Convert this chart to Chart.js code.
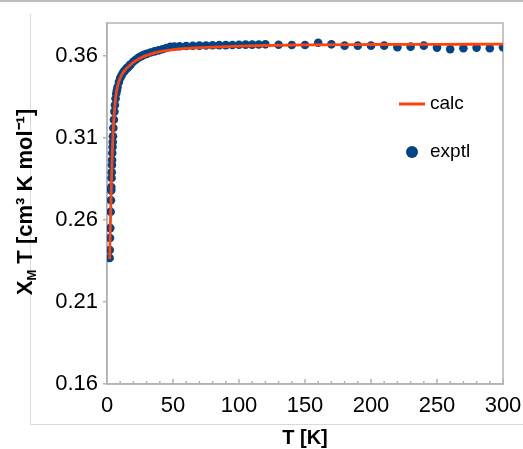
<!DOCTYPE html>
<html>
<head>
<meta charset="utf-8">
<script src="https://cdn.jsdelivr.net/npm/chart.js@4.4.0/dist/chart.umd.min.js"></script>
<style>
  html, body { margin: 0; padding: 0; background: #fff; }
  #wrap { width: 523px; height: 449px; position: relative; }
</style>
</head>
<body>
<div id="wrap"><canvas id="chiChart" width="523" height="449"></canvas></div>
<script>
// measured points
const exptlT = [2.0, 2.1, 2.3, 2.5, 2.8, 3.0, 3.2, 3.3, 3.45, 3.6, 3.75, 3.85, 4.0, 4.2, 4.35,
  4.5, 4.8, 5.2, 5.6, 6.0, 6.5, 7.0, 7.5, 8.0, 9.0, 10, 11, 12, 13, 14, 15, 16, 17, 18,
  20, 22, 24, 26, 28, 30, 33, 36, 39, 42, 45, 48, 51, 55, 60, 65, 70, 75, 80, 85, 90, 95,
  100, 105, 110, 115, 120, 130, 140, 150, 160, 170, 180, 190, 200, 210, 220, 230, 240,
  250, 260, 270, 280, 290, 300];
const exptlChiT = [0.2368, 0.2417, 0.249, 0.255, 0.265, 0.272, 0.278, 0.280, 0.2855, 0.289,
  0.2935, 0.2965, 0.3008, 0.3044, 0.3075, 0.311, 0.316, 0.321, 0.326, 0.330, 0.334, 0.337,
  0.339, 0.341, 0.344, 0.3465, 0.348, 0.3495, 0.3505, 0.3515, 0.3525, 0.353, 0.354, 0.3548,
  0.3565, 0.3578, 0.359, 0.3598, 0.3606, 0.3612, 0.362, 0.3627, 0.3633, 0.364, 0.3648,
  0.3655, 0.3657, 0.3658, 0.366, 0.3661, 0.3662, 0.3663, 0.3664, 0.3665, 0.3665, 0.3666,
  0.3667, 0.3668, 0.3668, 0.3669, 0.367, 0.3667, 0.3666, 0.3666, 0.368, 0.367, 0.3662,
  0.3662, 0.3662, 0.3662, 0.3652, 0.3656, 0.3662, 0.365, 0.3641, 0.3646, 0.365, 0.3646, 0.3652];

// fitted curve
const calcT = [2, 2.5, 3, 3.5, 4, 4.5, 5, 6, 7, 8, 10, 12, 15, 20, 25, 30, 40, 50, 60, 80,
  100, 120, 150, 200, 250, 300];
const calcChiT = [0.236, 0.255, 0.272, 0.287, 0.300, 0.311, 0.319, 0.330, 0.337, 0.3415,
  0.3465, 0.3495, 0.3525, 0.356, 0.3585, 0.3603, 0.3625, 0.3637, 0.3645, 0.3653, 0.3659,
  0.3663, 0.3667, 0.3669, 0.367, 0.3671];

const xTicks = [0, 50, 100, 150, 200, 250, 300];
const yTicks = [0.16, 0.21, 0.26, 0.31, 0.36];

const FONT = '"Liberation Sans", Arial, sans-serif';
const AXIS_GRAY = '#b3b3b3';

const toXY = (xs, ys) => xs.map((x, i) => ({ x: x, y: ys[i] }));

// frame, plot border, inside x tick marks, axis titles and legend
const decorations = {
  id: 'decorations',
  beforeDatasetsDraw(chart) {
    const { ctx, chartArea: a } = chart;
    ctx.save();
    ctx.strokeStyle = AXIS_GRAY;
    ctx.lineWidth = 1.5;
    ctx.strokeRect(a.left, a.top, a.right - a.left, a.bottom - a.top);
    // x tick marks every 10 K, pointing inward
    const xs = chart.scales.x;
    for (let t = 0; t <= 300; t += 10) {
      const px = xs.getPixelForValue(t);
      ctx.beginPath();
      ctx.moveTo(px, a.bottom);
      ctx.lineTo(px, a.bottom - (t % 50 === 0 ? 5 : 3));
      ctx.stroke();
    }
    ctx.restore();
  },
  afterDraw(chart) {
    const { ctx, chartArea: a } = chart;
    ctx.save();
    // outer light frame
    ctx.strokeStyle = '#d9d9d9';
    ctx.lineWidth = 1;
    ctx.beginPath();
    ctx.moveTo(30.5, 14); ctx.lineTo(30.5, 424.5); ctx.lineTo(523, 424.5);
    ctx.stroke();
    ctx.strokeStyle = '#bdbdbd';
    ctx.lineWidth = 2;
    ctx.beginPath(); ctx.moveTo(0, 1); ctx.lineTo(523, 1); ctx.stroke();

    ctx.fillStyle = '#000';
    // x title
    ctx.font = 'bold 20px ' + FONT;
    ctx.textAlign = 'center';
    ctx.textBaseline = 'middle';
    ctx.fillText('T [K]', (a.left + a.right) / 2, 438);

    // y title with subscript M
    ctx.translate(26, 202);
    ctx.rotate(-Math.PI / 2);
    const big = 'bold 22px ' + FONT, small = 'bold 13px ' + FONT;
    const parts = [['X', big, 0], ['M', small, 6], [' T [cm³ K mol⁻¹]', big, 0]];
    let w = 0;
    parts.forEach(p => { ctx.font = p[1]; w += ctx.measureText(p[0]).width; });
    let cx = -w / 2;
    ctx.textAlign = 'left';
    parts.forEach(p => {
      ctx.font = p[1];
      ctx.fillText(p[0], cx, p[2]);
      cx += ctx.measureText(p[0]).width;
    });
    ctx.restore();

    // legend inside the plot
    const calc = chart.data.datasets[0], ex = chart.data.datasets[1];
    ctx.save();
    ctx.font = '19px ' + FONT;
    ctx.textBaseline = 'middle';
    ctx.fillStyle = '#000';
    ctx.strokeStyle = calc.borderColor;
    ctx.lineWidth = 3;
    ctx.beginPath(); ctx.moveTo(399, 104); ctx.lineTo(425, 104); ctx.stroke();
    ctx.fillText(calc.label, 430, 104);
    ctx.fillStyle = ex.backgroundColor;
    ctx.beginPath(); ctx.arc(412, 152, 6, 0, Math.PI * 2); ctx.fill();
    ctx.fillStyle = '#000';
    ctx.fillText(ex.label, 430, 152);
    ctx.restore();
  }
};

const ctx = document.getElementById('chiChart').getContext('2d');

const chiChart = new Chart(ctx, {
  type: 'scatter',
  data: {
    datasets: [{
      label: 'calc',
      type: 'line',
      data: toXY(calcT, calcChiT),
      borderColor: '#ff420e',
      backgroundColor: '#ff420e',
      borderWidth: 2.8,
      pointRadius: 0,
      cubicInterpolationMode: 'monotone',
      fill: false
    }, {
      label: 'exptl',
      data: toXY(exptlT, exptlChiT),
      borderColor: '#004586',
      backgroundColor: '#004586',
      pointRadius: 4.3,
      pointBorderWidth: 0
    }]
  },
  options: {
    responsive: false,
    animation: false,
    devicePixelRatio: 1,
    layout: { padding: { left: 0, right: 20, top: 23, bottom: 0 } },
    plugins: {
      legend: { display: false },
      tooltip: { enabled: false }
    },
    scales: {
      x: {
        type: 'linear',
        min: 0, max: 300,
        afterBuildTicks: s => { s.ticks = xTicks.map(v => ({ value: v })); },
        afterFit: s => { s.height = 65; s.paddingLeft = 0; s.paddingRight = 0; },
        grid: { display: false, drawTicks: false },
        border: { color: AXIS_GRAY, width: 1.5 },
        ticks: { color: '#000', padding: 9, maxRotation: 0, font: { family: FONT, size: 22 } }
      },
      y: {
        min: 0.16, max: 0.38,
        afterBuildTicks: s => { s.ticks = yTicks.map(v => ({ value: v })); },
        afterFit: s => { s.width = 107; s.paddingTop = 0; s.paddingBottom = 0; },
        grid: { drawOnChartArea: false, tickLength: 4, color: AXIS_GRAY, lineWidth: 1.5 },
        border: { color: AXIS_GRAY, width: 1.5 },
        ticks: {
          color: '#000', padding: 5,
          font: { family: FONT, size: 22 },
          callback: v => v.toFixed(2)
        }
      }
    }
  },
  plugins: [decorations]
});
</script>
</body>
</html>
